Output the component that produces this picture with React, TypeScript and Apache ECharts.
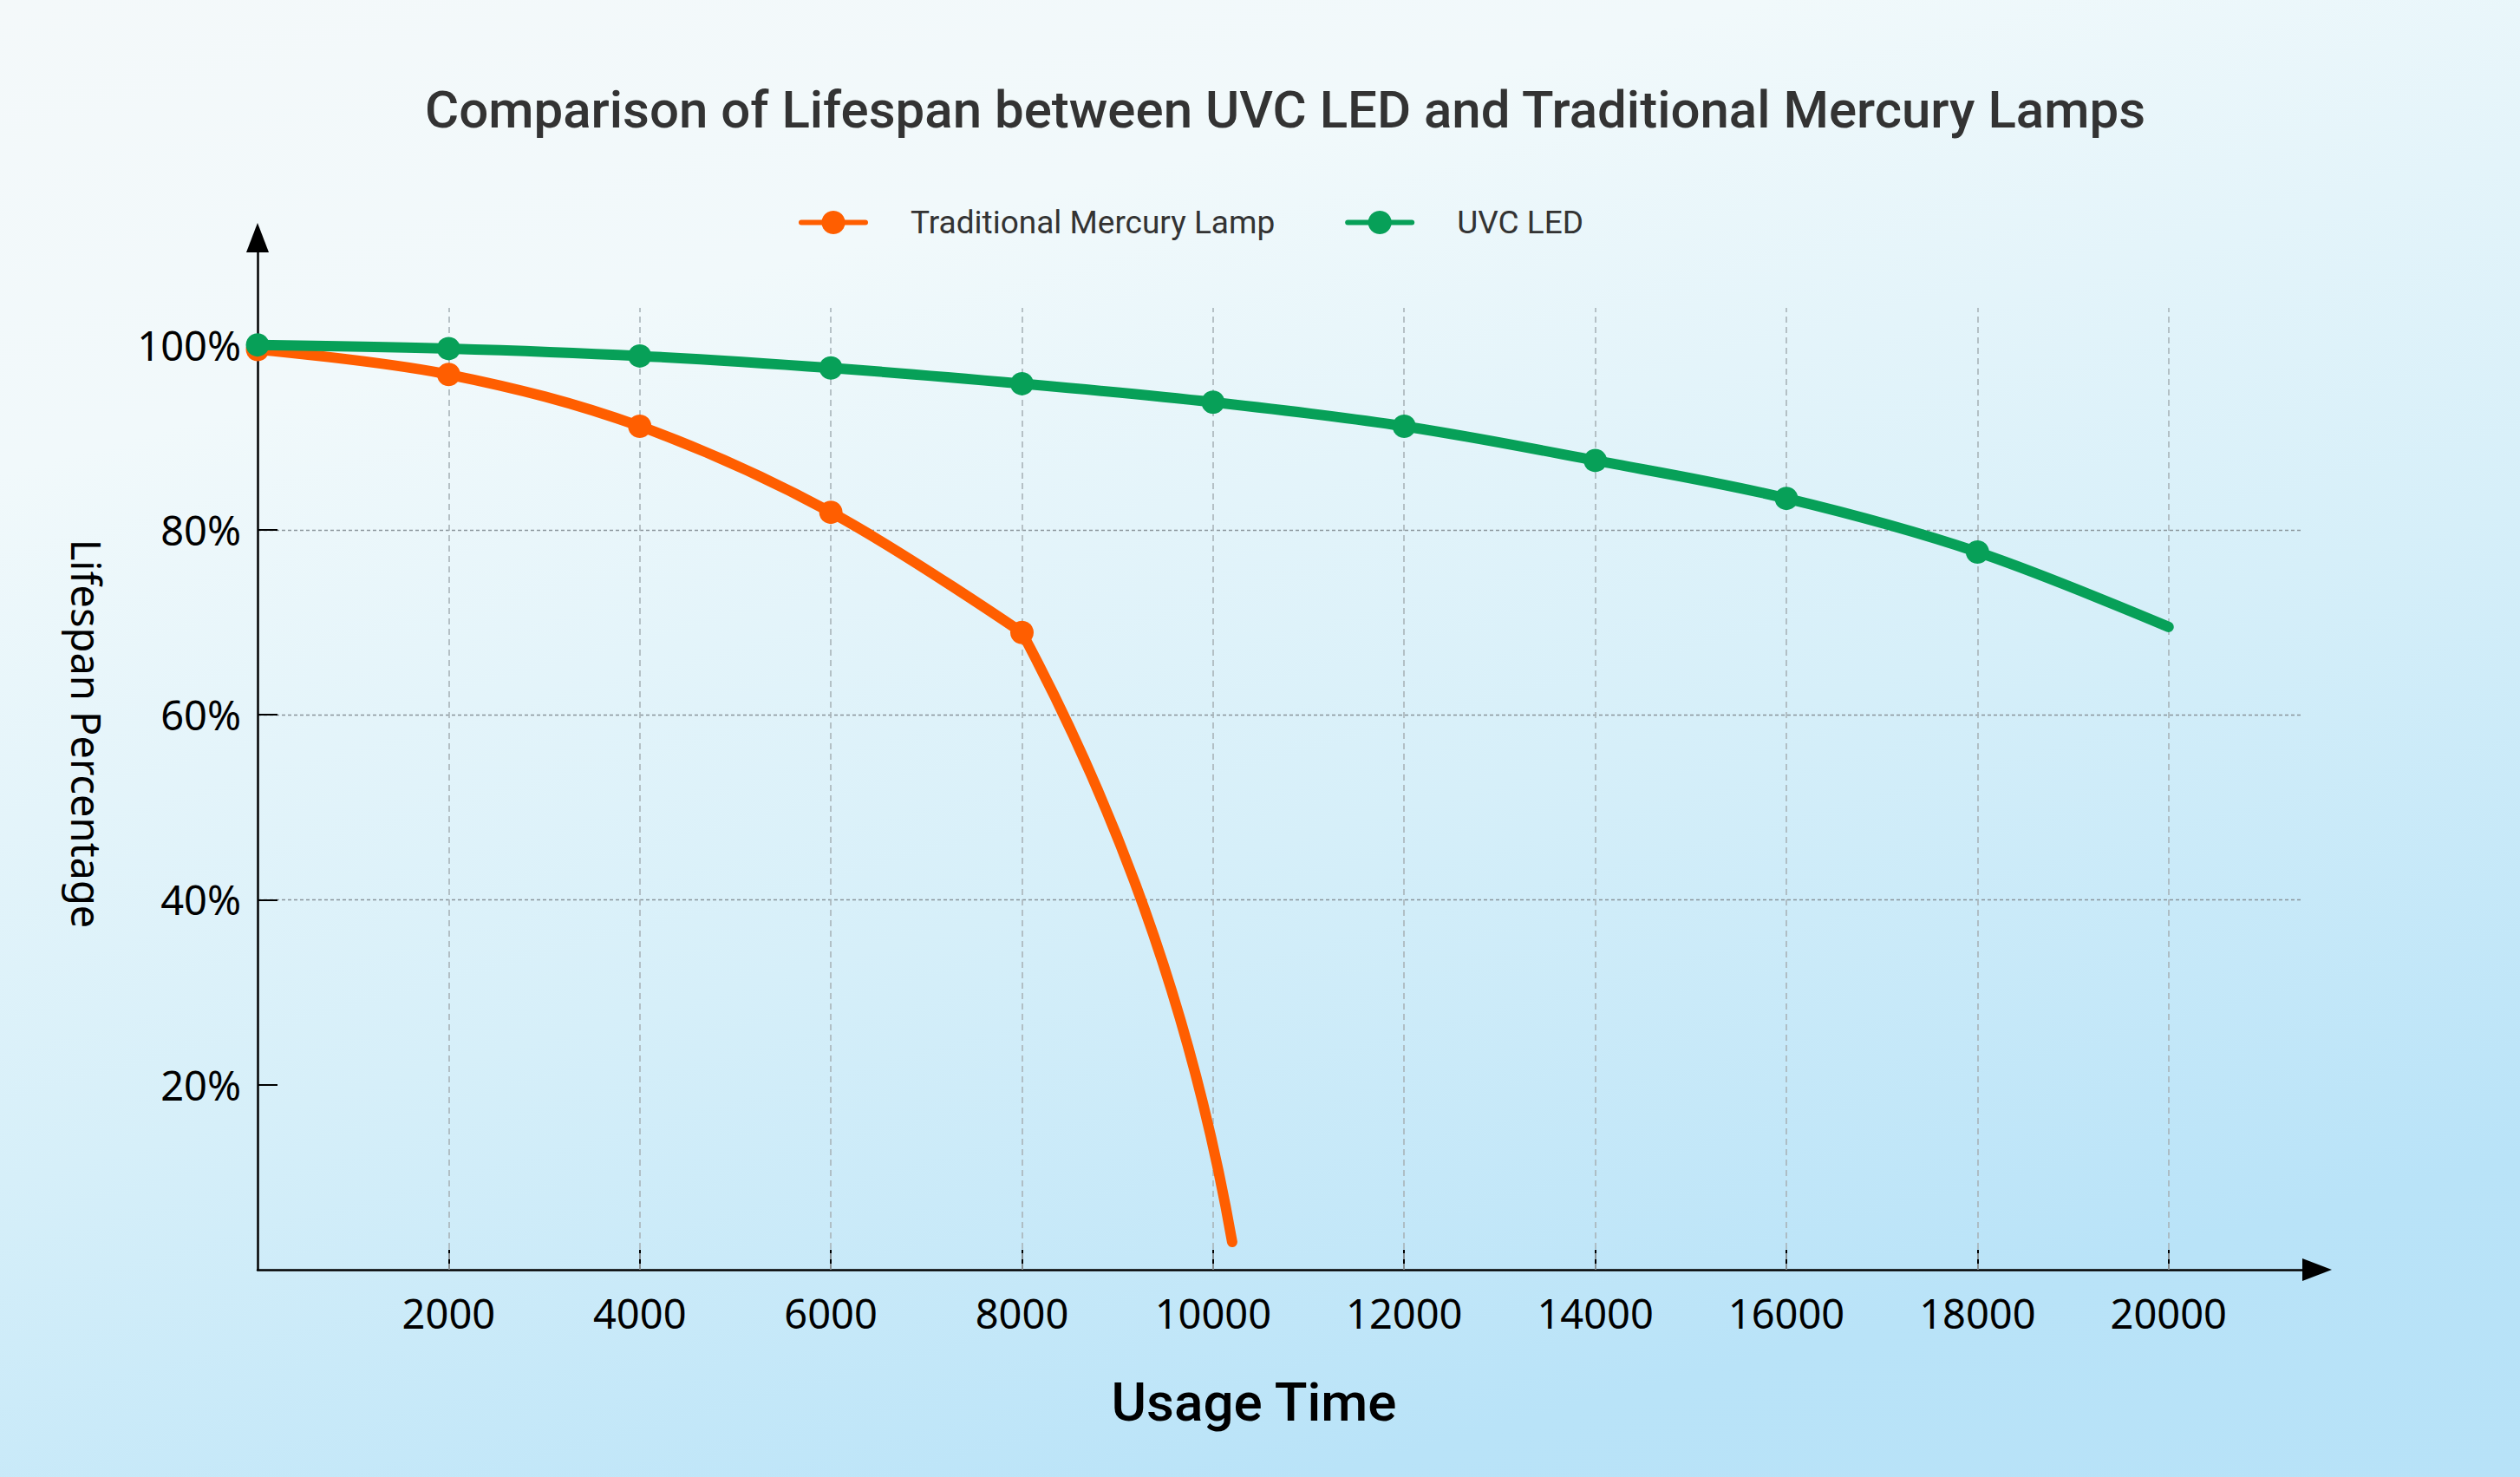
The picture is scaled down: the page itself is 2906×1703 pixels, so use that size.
import React, { useEffect, useRef } from "react";
import * as echarts from "echarts";

const titleText = "Comparison of Lifespan between UVC LED and Traditional Mercury Lamps";
const seriesNames = ["Traditional Mercury Lamp", "UVC LED"];
const xAxisTitle = "Usage Time";
const yAxisTitle = "Lifespan Percentage";

// Traditional mercury lamp: marked points every 2000 h up to 8000 h
const mercuryHours = [0, 2000, 4000, 6000, 8000];
const mercuryValues = [99.5, 96.8, 91.2, 81.9, 68.9];
// its steep unmarked tail, from the 8000 h point to the end of the curve
const mercuryTailHours = [8000, 10200];
const mercuryTailValues = [68.9, 3];

// UVC LED: the last point (end of the curve) has no marker
const ledHours = [0, 2000, 4000, 6000, 8000, 10000, 12000, 14000, 16000, 18000, 20000];
const ledValues = [100, 99.6, 98.8, 97.5, 95.8, 93.8, 91.2, 87.5, 83.4, 77.6, 69.5];
const ledMarked = [true, true, true, true, true, true, true, true, true, true, false];

const xTickValues = [2000, 4000, 6000, 8000, 10000, 12000, 14000, 16000, 18000, 20000];
const yTickValues = [20, 40, 60, 80, 100];

const X_MAX = 21400;
const Y_MAX = 110;
const V_GRID_TOP = 104;

const ORANGE = "#ff5e00";
const GREEN = "#07a058";

function toData(xs: number[], ys: number[], marked?: boolean[]) {
  return xs.map((x, i) => {
    const item: any = { value: [x, ys[i]] };
    if (marked && !marked[i]) item.symbol = "none";
    return item;
  });
}

export default function App() {
  const ref = useRef<HTMLDivElement>(null);

  useEffect(() => {
    document.body.style.margin = "0";
    if (!ref.current) return;
    const chart = echarts.init(ref.current, undefined, { renderer: "svg" });

    const option: any = {
      animation: false,
      backgroundColor: "transparent",
      grid: { left: 297, right: 251, top: 291, bottom: 239, containLabel: false },
      legend: {
        data: seriesNames,
        left: 921,
        top: 238,
        padding: 0,
        itemWidth: 74,
        itemHeight: 34,
        itemGap: 81,
        lineStyle: { width: 6 },
        textStyle: {
          fontFamily: "Roboto",
          fontSize: 37,
          color: "#333333",
          padding: [0, 0, 0, 47],
        },
      },
      graphic: [
        {
          type: "text",
          x: 1482,
          y: 126,
          style: {
            text: titleText,
            font: "500 60px Roboto",
            fill: "#333333",
            textAlign: "center",
            textVerticalAlign: "middle",
          },
        },
        {
          type: "text",
          x: 1446,
          y: 1616,
          style: {
            text: xAxisTitle,
            font: "500 62px Roboto",
            fill: "#000000",
            textAlign: "center",
            textVerticalAlign: "middle",
          },
        },
        {
          type: "text",
          x: 100,
          y: 846,
          rotation: -Math.PI / 2,
          style: {
            text: yAxisTitle,
            font: "47px 'Noto Sans'",
            fill: "#000000",
            textAlign: "center",
            textVerticalAlign: "middle",
          },
        },
      ],
      xAxis: {
        type: "value",
        min: 0,
        max: X_MAX,
        interval: 2000,
        axisLine: {
          show: true,
          symbol: ["none", "triangle"],
          symbolSize: [26, 34],
          symbolOffset: [0, 17],
          lineStyle: { color: "#000000", width: 2.5 },
        },
        axisTick: {
          show: true,
          inside: true,
          length: 23,
          customValues: xTickValues,
          lineStyle: { color: "#000000", width: 2 },
        },
        axisLabel: {
          customValues: xTickValues,
          formatter: (v: number) => String(v),
          fontFamily: "Noto Sans",
          fontSize: 47,
          color: "#000000",
          margin: 26,
        },
        splitLine: { show: false },
      },
      yAxis: {
        type: "value",
        min: 0,
        max: Y_MAX,
        interval: 20,
        axisLine: {
          show: true,
          symbol: ["none", "triangle"],
          symbolSize: [26, 34],
          symbolOffset: [0, 17],
          lineStyle: { color: "#000000", width: 2.5 },
        },
        axisTick: {
          show: true,
          inside: true,
          length: 23,
          customValues: yTickValues,
          lineStyle: { color: "#000000", width: 2 },
        },
        axisLabel: {
          customValues: yTickValues,
          formatter: (v: number) => `${v}%`,
          fontFamily: "Noto Sans",
          fontSize: 47,
          color: "#000000",
          margin: 19,
        },
        splitLine: {
          show: true,
          showMinLine: false,
          showMaxLine: false,
          lineStyle: { color: "#8a959b", width: 1.4, type: [4, 3] },
        },
      },
      series: [
        {
          name: "grid-verticals",
          type: "line",
          data: [],
          silent: true,
          markLine: {
            silent: true,
            z: 1,
            symbol: ["none", "none"],
            label: { show: false },
            lineStyle: { color: "#a9b3b8", width: 1.6, type: [7, 5] },
            emphasis: { disabled: true },
            data: xTickValues.map((x) => [
              { coord: [x, 0] },
              { coord: [x, V_GRID_TOP] },
            ]),
          },
        },
        {
          name: "mercury-tail",
          type: "lines",
          coordinateSystem: "cartesian2d",
          xAxisIndex: 0,
          yAxisIndex: 0,
          silent: true,
          z: 3,
          lineStyle: { color: ORANGE, width: 12, curveness: 0.08, cap: "round", opacity: 1 },
          data: [
            {
              coords: mercuryTailHours.map((h, i) => [h, mercuryTailValues[i]]),
            },
          ],
        },
        {
          name: seriesNames[0],
          type: "line",
          smooth: 0.35,
          symbol: "circle",
          symbolSize: 27,
          showAllSymbol: true,
          z: 3,
          itemStyle: { color: ORANGE },
          lineStyle: { color: ORANGE, width: 12, cap: "round" },
          data: toData(mercuryHours, mercuryValues),
        },
        {
          name: seriesNames[1],
          type: "line",
          smooth: 0.35,
          symbol: "circle",
          symbolSize: 27,
          showAllSymbol: true,
          z: 4,
          itemStyle: { color: GREEN },
          lineStyle: { color: GREEN, width: 12, cap: "round" },
          data: toData(ledHours, ledValues, ledMarked),
        },
      ],
    };

    chart.setOption(option);
    return () => {
      chart.dispose();
    };
  }, []);

  return (
    <div
      ref={ref}
      style={{
        position: "fixed",
        left: 0,
        top: 0,
        width: 2906,
        height: 1703,
        background:
          "linear-gradient(165deg, #f4f9fa 0%, #f1f9fb 22%, #d6eff9 55%, #b9e3f8 85%, #b7e2f8 100%)",
      }}
    />
  );
}
